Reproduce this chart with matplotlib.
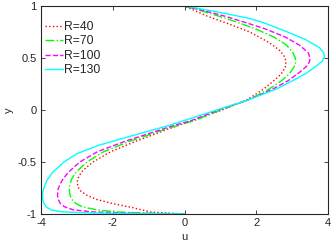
import matplotlib
matplotlib.use("Agg")
import matplotlib.pyplot as plt

labels = ["R=40", "R=70", "R=100", "R=130"]
colors = ["#FF0000", "#00FF00", "#FF00FF", "#00FFFF"]
styles = [":", "-.", "--", "-"]

y40 = [-1, -0.99, -0.98, -0.96, -0.94, -0.9, -0.86, -0.82, -0.78, -0.74, -0.69, -0.64, -0.58, -0.5, -0.4, -0.3, -0.176, -0.1, 0, 0.1, 0.2, 0.29, 0.35, 0.41, 0.47, 0.53, 0.58, 0.65, 0.75, 0.83, 0.9, 0.95, 1]
u40 = [0, -0.5, -0.96, -1.2, -1.43, -2.0, -2.45, -2.72, -2.89, -2.97, -2.99, -2.95, -2.83, -2.55, -2.05, -1.35, -0.4, 0.25, 1.05, 1.75, 2.2, 2.52, 2.7, 2.81, 2.83, 2.76, 2.63, 2.35, 1.82, 1.22, 0.65, 0.32, 0]

y70 = [-1, -0.995, -0.99, -0.98, -0.96, -0.93, -0.9, -0.86, -0.82, -0.77, -0.72, -0.66, -0.6, -0.5, -0.4, -0.3, -0.17, -0.1, 0, 0.1, 0.2, 0.28, 0.35, 0.42, 0.46, 0.5, 0.56, 0.63, 0.7, 0.78, 0.85, 0.9, 0.95, 1]
u70 = [0, -0.6, -1.2, -1.9, -2.45, -2.85, -3.03, -3.14, -3.19, -3.21, -3.2, -3.14, -3.03, -2.72, -2.25, -1.52, -0.4, 0.3, 1.0, 1.8, 2.35, 2.7, 2.93, 3.06, 3.1, 3.09, 3.01, 2.82, 2.5, 1.98, 1.42, 0.98, 0.5, 0]

y100 = [-1, -0.995, -0.99, -0.98, -0.96, -0.93, -0.9, -0.86, -0.82, -0.77, -0.72, -0.66, -0.6, -0.5, -0.4, -0.3, -0.16, -0.1, 0, 0.1, 0.2, 0.28, 0.36, 0.42, 0.46, 0.5, 0.55, 0.62, 0.7, 0.78, 0.85, 0.9, 0.95, 1]
u100 = [0, -0.9, -1.7, -2.55, -3.1, -3.35, -3.46, -3.52, -3.54, -3.53, -3.48, -3.38, -3.24, -2.92, -2.42, -1.65, -0.4, 0.2, 0.95, 1.8, 2.45, 2.88, 3.2, 3.4, 3.48, 3.5, 3.45, 3.22, 2.82, 2.25, 1.62, 1.15, 0.6, 0]

y130 = [-1, -0.995, -0.99, -0.98, -0.96, -0.93, -0.89, -0.84, -0.79, -0.74, -0.68, -0.6, -0.5, -0.42, -0.34, -0.29, -0.145, -0.05, 0, 0.1, 0.2, 0.27, 0.35, 0.43, 0.47, 0.51, 0.55, 0.6, 0.68, 0.76, 0.84, 0.88, 0.92, 0.96, 1]
u130 = [0, -1.5, -2.6, -3.4, -3.72, -3.86, -3.93, -3.96, -3.95, -3.91, -3.84, -3.68, -3.36, -3.0, -2.4, -1.9, -0.4, 0.45, 0.9, 1.8, 2.55, 2.95, 3.38, 3.7, 3.84, 3.9, 3.88, 3.76, 3.36, 2.8, 2.2, 1.82, 1.25, 0.65, 0]

xs = [u40, u70, u100, u130]
ys = [y40, y70, y100, y130]

xticks = [-4, -2, 0, 2, 4]
yticks = [-1, -0.5, 0, 0.5, 1]
ytick_labels = ["-1", "-0.5", "0", "0.5", "1"]

plt.rcParams['font.family'] = ['Liberation Sans', 'DejaVu Sans']
fig = plt.figure(figsize=(3.32, 2.49), dpi=100)
ax = fig.add_axes([41/332, 1-214/249, 287/332, 208/249])

for u, y, c, s, l in zip(xs, ys, colors, styles, labels):
    ax.plot(u, y, color=c, linestyle=s, linewidth=1.0, label=l)

ax.set_xlim(-4, 4)
ax.set_ylim(-1, 1)
ax.set_xticks(xticks)
ax.set_xticklabels([str(t) for t in xticks])
ax.set_yticks(yticks)
ax.set_yticklabels(ytick_labels)
ax.tick_params(direction='in', top=True, right=True, length=3, width=0.6,
               labelsize=8, colors='#262626', pad=3)
for sp in ax.spines.values():
    sp.set_color('#262626')
    sp.set_linewidth(0.8)
ax.set_xlabel('u', fontsize=8, color='#262626', labelpad=3)
ax.set_ylabel('y', fontsize=8, color='#262626', labelpad=3)

leg = ax.legend(loc='upper left', frameon=False, fontsize=8.7, handlelength=1.5,
                handletextpad=0.12, labelspacing=0.2, borderaxespad=0.0,
                borderpad=0.3, bbox_to_anchor=(0.0, 0.945))
for t in leg.get_texts():
    t.set_color('#262626')

fig.savefig('out.png', dpi=100)
